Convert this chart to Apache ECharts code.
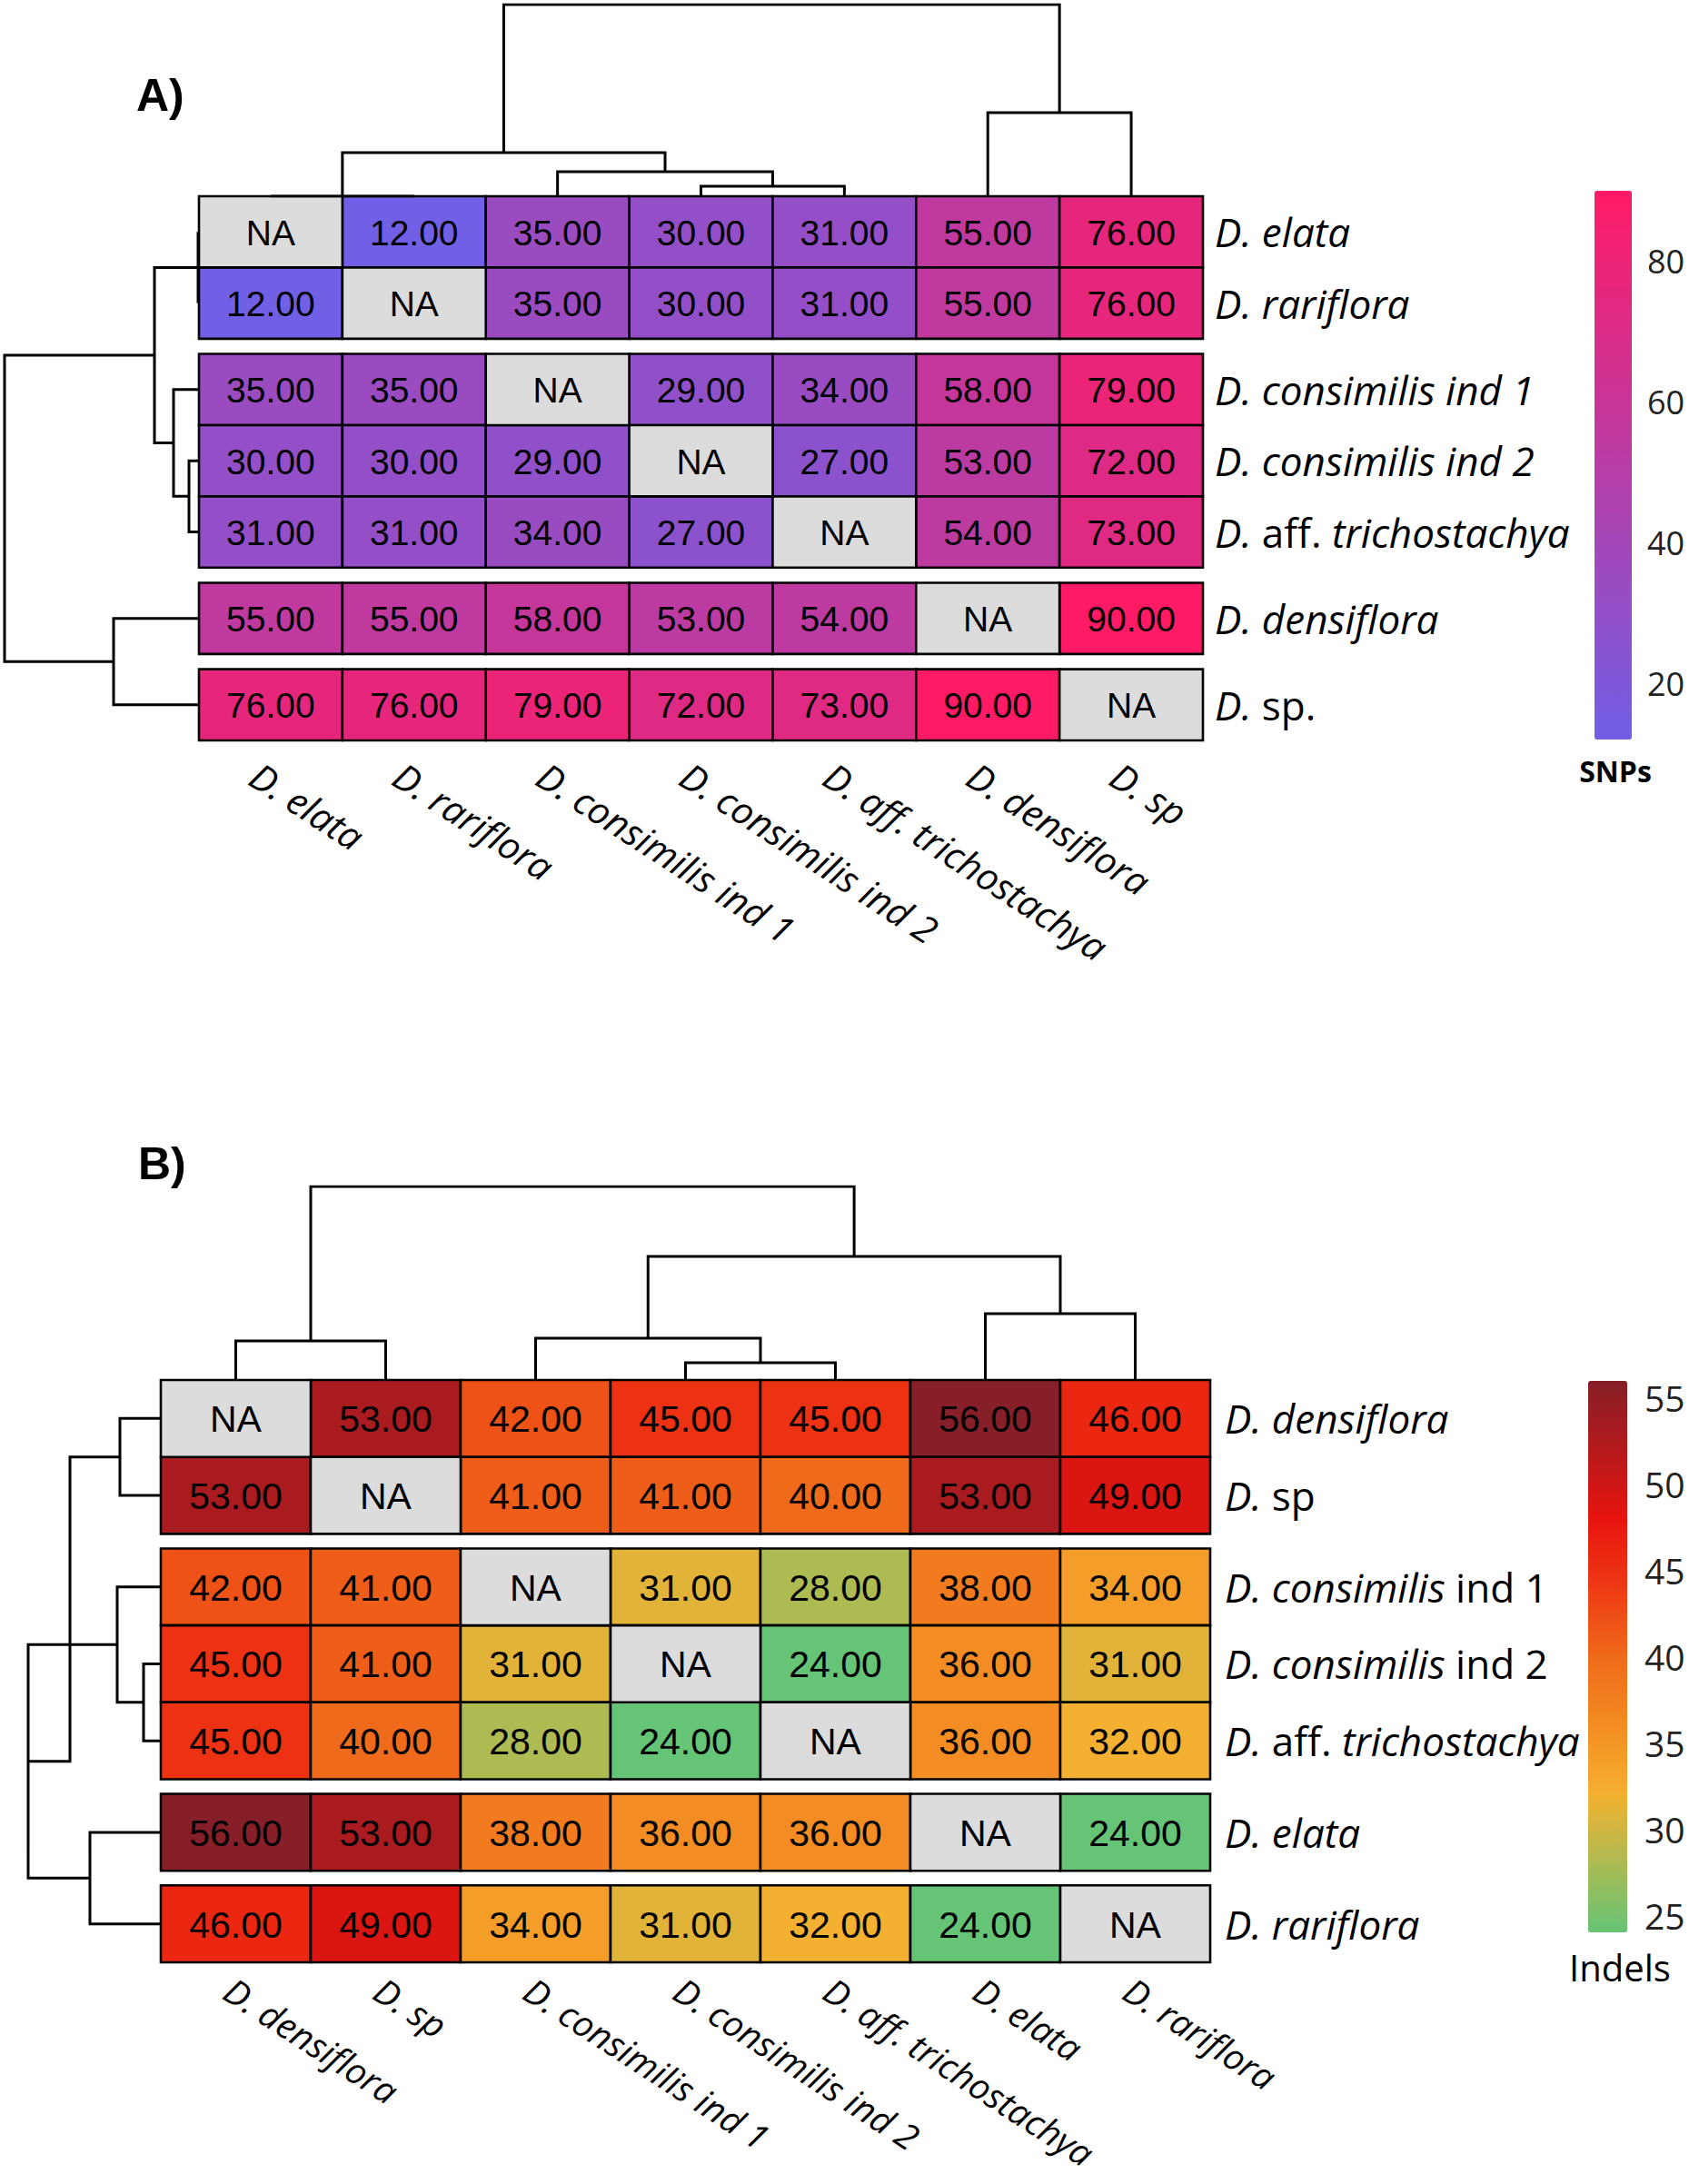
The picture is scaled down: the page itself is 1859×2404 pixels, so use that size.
<!DOCTYPE html>
<html>
<head>
<meta charset="utf-8">
<script src="https://cdn.jsdelivr.net/npm/echarts@6/dist/echarts.min.js"></script>
<style>
html,body{margin:0;padding:0;background:#fff;}
#chart{width:1859px;height:2404px;}
</style>
</head>
<body>
<div id="chart"></div>
<script>
// ---------------- DATA ----------------
// Panel A (SNPs)
const colLabelsA = ['D. elata','D. rariflora','D. consimilis ind 1','D. consimilis ind 2','D. aff. trichostachya','D. densiflora','D. sp'];
const rowLabelsA = ['{i|D. elata}','{i|D. rariflora}','{i|D. consimilis ind 1}','{i|D. consimilis ind 2}','{i|D. }{n|aff. }{i|trichostachya}','{i|D. densiflora}','{i|D. }{n|sp.}'];
const valuesA = [
  [null,12,35,30,31,55,76],
  [12,null,35,30,31,55,76],
  [35,35,null,29,34,58,79],
  [30,30,29,null,27,53,72],
  [31,31,34,27,null,54,73],
  [55,55,58,53,54,null,90],
  [76,76,79,72,73,90,null]
];
const rowGroupsA = [2,3,1,1];
// dendrogram merges: [childA, childB, height]; negative = leaf (-1 is leaf 0), positive = earlier merge (1-based)
const colMergesA = [[-1,-2,0],[-4,-5,11],[-3,2,27],[1,3,48],[-6,-7,92],[4,5,211]];
const rowMergesA = [[-1,-2,0],[-4,-5,10],[-3,2,27],[1,3,48],[-6,-7,93],[4,5,213]];
const rangeA = [12,90];
const ticksA = [20,40,60,80];
const colorsA = ['#715fe6','#ff1a66'];

// Panel B (Indels)
const colLabelsB = ['D. densiflora','D. sp','D. consimilis ind 1','D. consimilis ind 2','D. aff. trichostachya','D. elata','D. rariflora'];
const rowLabelsB = ['{i|D. densiflora}','{i|D. }{n|sp}','{i|D. consimilis }{n|ind 1}','{i|D. consimilis }{n|ind 2}','{i|D. }{n|aff. }{i|trichostachya}','{i|D. elata}','{i|D. rariflora}'];
const valuesB = [
  [null,53,42,45,45,56,46],
  [53,null,41,41,40,53,49],
  [42,41,null,31,28,38,34],
  [45,41,31,null,24,36,31],
  [45,40,28,24,null,36,32],
  [56,53,38,36,36,null,24],
  [46,49,34,31,32,24,null]
];
const rowGroupsB = [2,3,1,1];
const colMergesB = [[-1,-2,42],[-4,-5,18],[-3,2,45],[-6,-7,72],[3,4,135],[1,5,212]];
const rowMergesB = [[-1,-2,45],[-4,-5,19],[-3,2,48],[-6,-7,78],[3,4,146],[1,5,100]];
const rangeB = [24,56];
const ticksB = [25,30,35,40,45,50,55];
const colorsB = ['#66c476','#adbb52','#f4b030','#f38c22','#ef6a1a','#ee3a14','#e8140f','#b5191c','#861f27'];

// ---------------- LAYOUT ----------------
const layoutA = {
  heat:{left:219, top:216, width:1105, height:599}, gap:0.213,
  topD:{top:5, height:211}, leftD:{left:5, width:213},
  cbar:{left:1755, top:210, width:41, height:604}, cbarMargin:17, cbarFont:36,
  cellFont:39, rowFont:44, rowMargin:13, colFont:41, colMargin:34, colShift:-18, colRotate:-33,
  title:{text:'A)', left:150, top:80}, cbTitle:{text:'SNPs', x:1778, y:832, weight:'bold', size:32}
};
const layoutB = {
  heat:{left:177, top:1519, width:1155, height:641}, gap:0.19,
  topD:{top:1306, height:212}, leftD:{left:31, width:146},
  cbar:{left:1748, top:1520, width:43, height:607}, cbarMargin:19, cbarFont:39,
  cellFont:41, rowFont:44, rowMargin:16, colFont:39, colMargin:26, colShift:-8, colRotate:-33,
  title:{text:'B)', left:152, top:1256}, cbTitle:{text:'Indels', x:1783, y:2145, weight:'normal', size:40}
};

const CELL_FONT = '"Liberation Sans", Arial, sans-serif';
const LAB_FONT = '"Open Sans", sans-serif';

function rowCenters(groups, gap){
  const c=[]; let y=0;
  groups.forEach((n,gi)=>{ if(gi>0) y+=gap; for(let k=0;k<n;k++){ c.push(y+0.5); y+=1; } });
  return {centers:c, total:y};
}
// build dendrogram polylines from merges and leaf positions
function dendroLines(merges, leafPos, horizontal){
  const pos=[], hgt=[];
  const ref = r => r<0 ? [leafPos[-r-1], 0] : [pos[r-1], hgt[r-1]];
  const out=[];
  merges.forEach((m,i)=>{
    const a=ref(m[0]), b=ref(m[1]), h=m[2];
    pos[i]=(a[0]+b[0])/2; hgt[i]=h;
    let pts=[[a[0],a[1]],[a[0],h],[b[0],h],[b[0],b[1]]];
    if(horizontal) pts=pts.map(p=>[p[1],p[0]]);
    out.push({coords:pts});
  });
  return out;
}

const option = {
  animation:false,
  backgroundColor:'#fff',
  grid:[], xAxis:[], yAxis:[], series:[], visualMap:[], graphic:[]
};

function addPanel(L, colLabels, rowLabels, values, groups, colMerges, rowMerges, range, ticks, colors){
  const g0 = option.grid.length;
  const xa0 = option.xAxis.length, ya0 = option.yAxis.length;
  const rc = rowCenters(groups, L.gap);
  const nCol = colLabels.length;
  // grid 0: heatmap
  option.grid.push(Object.assign({outerBoundsMode:'none', containLabel:false}, L.heat));
  // grid 1: top dendrogram
  option.grid.push({outerBoundsMode:'none', left:L.heat.left, width:L.heat.width, top:L.topD.top, height:L.topD.height});
  // grid 2: left dendrogram
  option.grid.push({outerBoundsMode:'none', left:L.leftD.left, width:L.leftD.width, top:L.heat.top, height:L.heat.height});
  // grid 3: colour bar axis
  option.grid.push(Object.assign({outerBoundsMode:'none'}, L.cbar));
  // grid 4: column label axis (slightly shifted)
  option.grid.push({outerBoundsMode:'none', left:L.heat.left+L.colShift, width:L.heat.width, top:L.heat.top, height:L.heat.height});

  // heatmap axes
  option.xAxis.push({gridIndex:g0, type:'category', data:colLabels, position:'bottom',
    axisLine:{show:false}, axisTick:{show:false}, splitLine:{show:false}, axisLabel:{show:false}});
  option.yAxis.push({gridIndex:g0, type:'value', inverse:true, min:0, max:rc.total, position:'right',
    axisLine:{show:false}, axisTick:{show:false}, splitLine:{show:false},
    axisLabel:{customValues:rc.centers, margin:L.rowMargin, verticalAlign:'middle',
      fontFamily:LAB_FONT, fontSize:L.rowFont, color:'#000',
      formatter:(v)=>{ let bi=0,bd=1e9; rc.centers.forEach((c,i)=>{const d=Math.abs(c-v); if(d<bd){bd=d;bi=i;}}); return rowLabels[bi]; },
      rich:{ i:{fontFamily:LAB_FONT, fontStyle:'italic', fontSize:L.rowFont, color:'#000'},
             n:{fontFamily:LAB_FONT, fontStyle:'normal', fontSize:L.rowFont, color:'#000'} }}});
  // top dendro axes
  const topMax = Math.max(...colMerges.map(m=>m[2]));
  option.xAxis.push({gridIndex:g0+1, type:'value', min:0, max:nCol, show:false});
  option.yAxis.push({gridIndex:g0+1, type:'value', min:0, max:topMax, show:false});
  // left dendro axes
  const leftMax = Math.max(...rowMerges.map(m=>m[2]));
  option.xAxis.push({gridIndex:g0+2, type:'value', min:0, max:leftMax, inverse:true, show:false});
  option.yAxis.push({gridIndex:g0+2, type:'value', min:0, max:rc.total, inverse:true, show:false});
  // colour bar axes
  option.xAxis.push({gridIndex:g0+3, type:'value', min:0, max:1, show:false});
  option.yAxis.push({gridIndex:g0+3, type:'value', min:range[0], max:range[1], position:'right',
    axisLine:{show:false}, axisTick:{show:false}, splitLine:{show:false},
    axisLabel:{customValues:ticks, margin:L.cbarMargin, fontFamily:LAB_FONT, fontSize:L.cbarFont, color:'#222'}});
  // column label axes
  option.xAxis.push({gridIndex:g0+4, type:'category', data:colLabels, position:'bottom',
    axisLine:{show:false}, axisTick:{show:false}, splitLine:{show:false},
    axisLabel:{rotate:L.colRotate, margin:L.colMargin, interval:0, fontFamily:LAB_FONT, fontStyle:'italic', fontSize:L.colFont, color:'#000'}});
  option.yAxis.push({gridIndex:g0+4, type:'value', min:0, max:1, show:false});

  // data
  const cells=[], naCells=[];
  values.forEach((row,r)=>row.forEach((v,c)=>{
    if(v===null) naCells.push([c, rc.centers[r]]); else cells.push([c, rc.centers[r], v]);
  }));
  const cellRender = (isNA)=> (params, api)=>{
    const c = api.coord([api.value(0), api.value(1)]);
    const w = params.coordSys.width / nCol;
    const h = api.size([0,1])[1];
    const txt = isNA ? 'NA' : api.value(2).toFixed(2);
    return {type:'group', children:[
      {type:'rect', shape:{x:c[0]-w/2, y:c[1]-h/2, width:w, height:h},
       style:{fill: isNA ? '#dcdcdc' : api.visual('color'), stroke:'#000', lineWidth:2.6}},
      {type:'text', style:{text:txt, x:c[0], y:c[1]+1, align:'center', verticalAlign:'middle',
        fontFamily:CELL_FONT, fontSize:L.cellFont, fill:'#000'}}
    ]};
  };
  const sCells = option.series.length;
  option.series.push({type:'custom', xAxisIndex:xa0, yAxisIndex:ya0, data:cells, encode:{x:0,y:1},
    renderItem:cellRender(false), silent:true, z:2});
  option.series.push({type:'custom', xAxisIndex:xa0, yAxisIndex:ya0, data:naCells, encode:{x:0,y:1},
    renderItem:cellRender(true), silent:true, z:2});
  // dendrograms
  const colLeaf = colLabels.map((_,i)=>i+0.5);
  option.series.push({type:'lines', coordinateSystem:'cartesian2d', xAxisIndex:xa0+1, yAxisIndex:ya0+1, polyline:true,
    data:dendroLines(colMerges, colLeaf, false), lineStyle:{color:'#000', width:3, opacity:1}, silent:true});
  option.series.push({type:'lines', coordinateSystem:'cartesian2d', xAxisIndex:xa0+2, yAxisIndex:ya0+2, polyline:true,
    data:dendroLines(rowMerges, rc.centers, true), lineStyle:{color:'#000', width:3, opacity:1}, silent:true});
  // colour scale
  option.visualMap.push({type:'continuous', seriesIndex:sCells, dimension:2, min:range[0], max:range[1],
    orient:'vertical', left:L.cbar.left, top:L.cbar.top, itemWidth:L.cbar.width, itemHeight:L.cbar.height,
    padding:0, calculable:false, hoverLink:false, inRange:{color:colors}, text:null, showLabel:false});
  // titles
  option.graphic.push({type:'text', left:L.title.left, top:L.title.top,
    style:{text:L.title.text, fontFamily:CELL_FONT, fontWeight:'bold', fontSize:50, fill:'#000'}});
  option.graphic.push({type:'text', x:L.cbTitle.x, y:L.cbTitle.y,
    style:{text:L.cbTitle.text, fontFamily:LAB_FONT, fontWeight:L.cbTitle.weight, fontSize:L.cbTitle.size, fill:'#000', align:'center', verticalAlign:'top'}});
}

addPanel(layoutA, colLabelsA, rowLabelsA, valuesA, rowGroupsA, colMergesA, rowMergesA, rangeA, ticksA, colorsA);
addPanel(layoutB, colLabelsB, rowLabelsB, valuesB, rowGroupsB, colMergesB, rowMergesB, rangeB, ticksB, colorsB);

const chart = echarts.init(document.getElementById('chart'), null, {renderer:'svg', width:1859, height:2404});
chart.setOption(option);
</script>
</body>
</html>
